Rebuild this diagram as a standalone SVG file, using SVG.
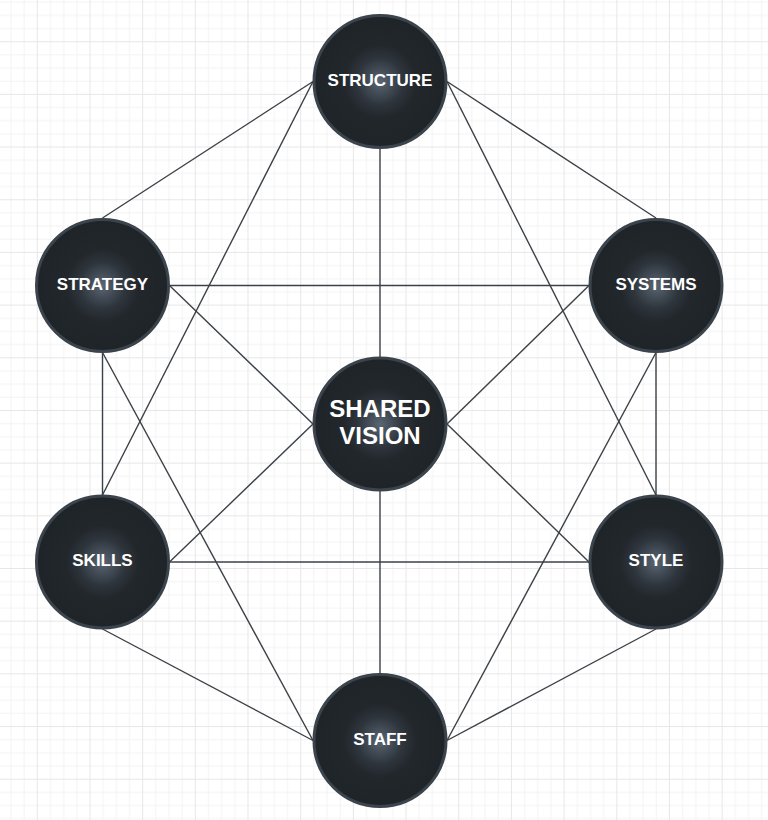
<svg xmlns="http://www.w3.org/2000/svg" width="768" height="820" viewBox="0 0 768 820">
<defs>
<pattern id="grid" patternUnits="userSpaceOnUse" x="36.8" y="41.2" width="52.68" height="52.68">
<path d="M13.67 0V52.68M26.84 0V52.68M40.01 0V52.68M0 13.67H52.68M0 26.84H52.68M0 40.01H52.68" stroke="#f3f3f3" stroke-width="1" fill="none"/>
<path d="M0.5 0V52.68M0 0.5H52.68" stroke="#e7e7e7" stroke-width="1" fill="none"/>
</pattern>
<radialGradient id="glow" cx="0.5" cy="0.5" r="0.5">
<stop offset="0" stop-color="#5a6674"/>
<stop offset="0.35" stop-color="#2e353c"/>
<stop offset="0.55" stop-color="#22272c"/>
<stop offset="1" stop-color="#1f2428"/>
</radialGradient>
</defs>
<style>
.node{fill:url(#glow);stroke:#3b434c;stroke-width:3}
.lbl{fill:#ffffff;font-family:"Liberation Sans","DejaVu Sans",sans-serif;font-weight:bold;font-size:17px;text-anchor:middle}
.big{font-size:24px}
.edge{stroke:#3c4147;stroke-width:1.4;fill:none}
</style>
<rect width="768" height="820" fill="#ffffff"/>
<rect width="768" height="820" fill="url(#grid)"/>
<g id="connectors">
<line class="edge" x1="313" y1="81.5" x2="102.5" y2="218"/>
<line class="edge" x1="313" y1="81.5" x2="102.5" y2="495"/>
<line class="edge" x1="380" y1="148.5" x2="380" y2="357"/>
<line class="edge" x1="447" y1="81.5" x2="656" y2="218"/>
<line class="edge" x1="447" y1="81.5" x2="656" y2="495"/>
<line class="edge" x1="169.5" y1="285.5" x2="589" y2="285.5"/>
<line class="edge" x1="169.5" y1="285.5" x2="313" y2="424"/>
<line class="edge" x1="102.5" y1="352.5" x2="102.5" y2="495"/>
<line class="edge" x1="102.5" y1="352.5" x2="313" y2="740.5"/>
<line class="edge" x1="589" y1="285.5" x2="447" y2="424"/>
<line class="edge" x1="656" y1="352.5" x2="656" y2="495"/>
<line class="edge" x1="656" y1="352.5" x2="447" y2="740.5"/>
<line class="edge" x1="313" y1="424" x2="169.5" y2="562"/>
<line class="edge" x1="447" y1="424" x2="589" y2="562"/>
<line class="edge" x1="380" y1="491" x2="380" y2="673.5"/>
<line class="edge" x1="169.5" y1="562" x2="589" y2="562"/>
<line class="edge" x1="102.5" y1="629" x2="313" y2="740.5"/>
<line class="edge" x1="656" y1="629" x2="447" y2="740.5"/>
</g>
<g id="structure"><circle class="node" cx="380" cy="81.5" r="66"/><text class="lbl" x="380" y="85.5">STRUCTURE</text></g>
<g id="strategy"><circle class="node" cx="102.5" cy="285.5" r="66"/><text class="lbl" x="102.5" y="289.5">STRATEGY</text></g>
<g id="systems"><circle class="node" cx="656" cy="285.5" r="66"/><text class="lbl" x="656" y="289.5">SYSTEMS</text></g>
<g id="shared-vision"><circle class="node" cx="380" cy="424" r="66"/><text class="lbl big" x="380" y="417">SHARED</text><text class="lbl big" x="380" y="444">VISION</text></g>
<g id="skills"><circle class="node" cx="102.5" cy="562" r="66"/><text class="lbl" x="102.5" y="566">SKILLS</text></g>
<g id="style"><circle class="node" cx="656" cy="562" r="66"/><text class="lbl" x="656" y="566">STYLE</text></g>
<g id="staff"><circle class="node" cx="380" cy="740.5" r="66"/><text class="lbl" x="380" y="744.5">STAFF</text></g>
</svg>
